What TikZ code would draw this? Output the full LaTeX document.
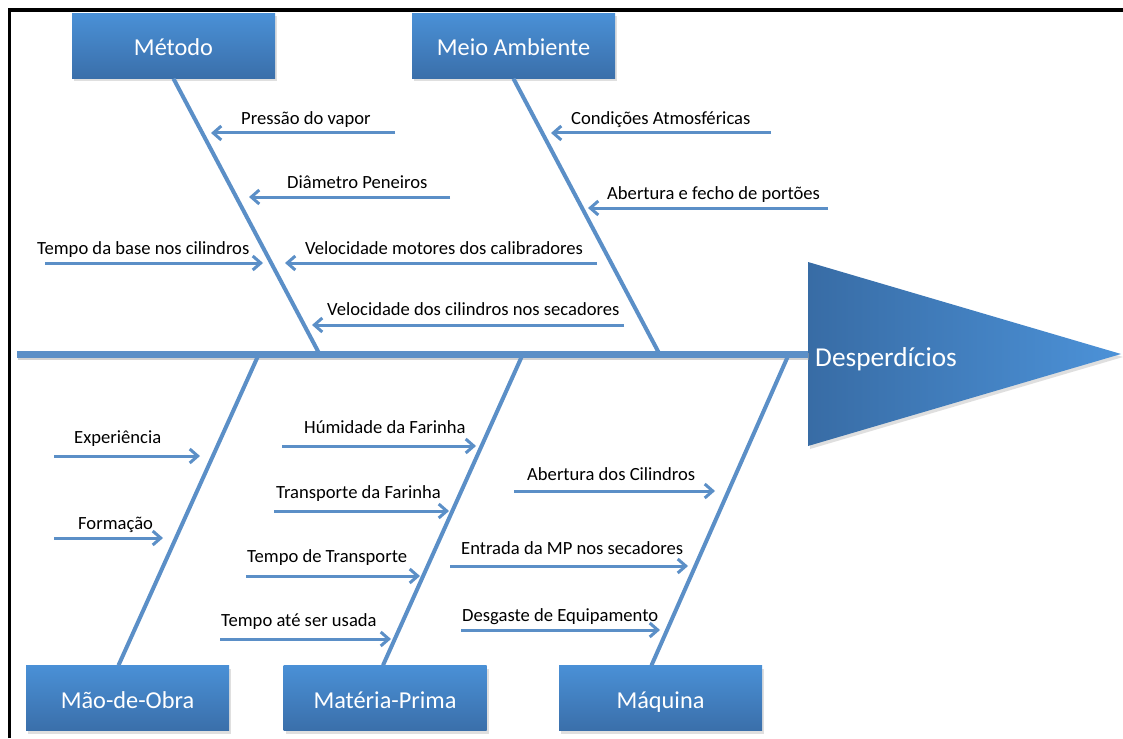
\documentclass[tikz,border=0pt]{standalone}
\usepackage{fontspec}
\setmainfont{Carlito}
\usetikzlibrary{arrows.meta,shadows}

\definecolor{bone}{RGB}{91,143,199}
\definecolor{boxtop}{RGB}{74,144,214}
\definecolor{boxbot}{RGB}{58,111,170}
\definecolor{headL}{RGB}{56,108,165}
\definecolor{headR}{RGB}{76,146,216}

\begin{document}
\begin{tikzpicture}[x=1pt,y=-1pt,
  catbox/.style={top color=boxtop,bottom color=boxbot,draw=none,
    minimum width=203pt,minimum height=65pt,inner sep=0pt,text=white,
    text height=20pt,text depth=0pt,
    font=\fontsize{24.3}{28}\selectfont,
    drop shadow={shadow xshift=2pt,shadow yshift=-3pt,opacity=0.25}},
  bonestyle/.style={draw=bone,line width=4pt},
  spinestyle/.style={draw=bone,line width=7pt},
  cause/.style={draw=bone,line width=3pt,-{Straight Barb[length=8pt,width=14pt]}},
  lbl/.style={anchor=base west,inner sep=0pt,font=\fontsize{18.6}{21}\selectfont}
]
\useasboundingbox (0,0) rectangle (1123,738);
\fill[white] (0,0) rectangle (1123,738);

% outer frame (left and top edges)
\draw[line width=3.5pt] (9.3,738) -- (9.3,10) -- (1123,10);

% category boxes
\node[catbox] (metodo) at (173.5,46) {Método};
\node[catbox] (meio)   at (513.5,46) {Meio Ambiente};
\node[catbox] (mao)    at (127.5,698) {Mão-de-Obra};
\node[catbox] (mat)    at (385,698) {Matéria-Prima};
\node[catbox] (maq)    at (660.5,698) {Máquina};

% fish head
\coordinate (ht) at (808,262);
\coordinate (hb) at (808,446);
\coordinate (hp) at (1121,354);
\coordinate (hl) at (808,354);
\shade[left color=headL,right color=headR,
  drop shadow={shadow xshift=2pt,shadow yshift=-3pt,opacity=0.25}]
  (ht) -- (hp) -- (hb) -- cycle;
\node[anchor=base west,inner sep=0pt,text=white,font=\fontsize{27.3}{30}\selectfont]
  (effect) at (815,366) {Desperdícios};

% spine
\coordinate (sl) at (17,354);
\draw[black!35,line width=7pt,opacity=0.5] ([xshift=1pt,yshift=-2pt]sl) -- ([xshift=1pt,yshift=-2pt]hl);
\draw[spinestyle] (sl) -- (hl);

% bones
\coordinate (b1) at (320,355);
\coordinate (b2) at (660,355);
\coordinate (b3) at (258,356);
\coordinate (b4) at (522,356);
\coordinate (b5) at (788,356);
\draw[bonestyle] (metodo.south) -- (b1);
\draw[bonestyle] (meio.south) -- (b2);
\draw[bonestyle] (b3) -- ([xshift=-9pt]mao.north);
\draw[bonestyle] (b4) -- ([xshift=-2pt]mat.north);
\draw[bonestyle] (b5) -- ([xshift=-9pt]maq.north);

% cause labels
\node[lbl] (l1)  at (241,125) {Pressão do vapor};
\node[lbl] (l2)  at (287,189) {Diâmetro Peneiros};
\node[lbl] (l3)  at (305,254) {Velocidade motores dos calibradores};
\node[lbl] (l4)  at (37,254)  {Tempo da base nos cilindros};
\node[lbl] (l5)  at (327,315) {Velocidade dos cilindros nos secadores};
\node[lbl] (l6)  at (571,125) {Condições Atmosféricas};
\node[lbl] (l7)  at (607,199) {Abertura e fecho de portões};
\node[lbl] (l8)  at (74,443)  {Experiência};
\node[lbl] (l9)  at (78,529)  {Formação};
\node[lbl] (l10) at (304,433) {Húmidade da Farinha};
\node[lbl] (l11) at (276,498) {Transporte da Farinha};
\node[lbl] (l12) at (247,562) {Tempo de Transporte};
\node[lbl] (l13) at (221,626) {Tempo até ser usada};
\node[lbl] (l14) at (527,480) {Abertura dos Cilindros};
\node[lbl] (l15) at (461,554) {Entrada da MP nos secadores};
\node[lbl] (l16) at (462,621) {Desgaste de Equipamento};

% cause arrows: start and tip points
\coordinate (s1)  at (395,133);  \coordinate (t1)  at (211,133);
\coordinate (s2)  at (450,197);  \coordinate (t2)  at (249,197);
\coordinate (s3)  at (597,263);  \coordinate (t3)  at (285,263);
\coordinate (s4)  at (45,263);   \coordinate (t4)  at (263,263);
\coordinate (s5)  at (624,325);  \coordinate (t5)  at (312,325);
\coordinate (s6)  at (771,133);  \coordinate (t6)  at (551,133);
\coordinate (s7)  at (828,208);  \coordinate (t7)  at (588,208);
\coordinate (s8)  at (54,456);   \coordinate (t8)  at (200,456);
\coordinate (s9)  at (54,538);   \coordinate (t9)  at (163,538);
\coordinate (s10) at (282,446);  \coordinate (t10) at (476,446);
\coordinate (s11) at (274,511);  \coordinate (t11) at (449,511);
\coordinate (s12) at (246,576);  \coordinate (t12) at (420,576);
\coordinate (s13) at (220,639);  \coordinate (t13) at (391,639);
\coordinate (s14) at (514,491);  \coordinate (t14) at (715,491);
\coordinate (s15) at (450,566);  \coordinate (t15) at (688,566);
\coordinate (s16) at (461,630);  \coordinate (t16) at (660,630);
\foreach \i in {1,...,16} {
  \draw[cause] (s\i) -- (t\i);
}
\end{tikzpicture}
\end{document}
